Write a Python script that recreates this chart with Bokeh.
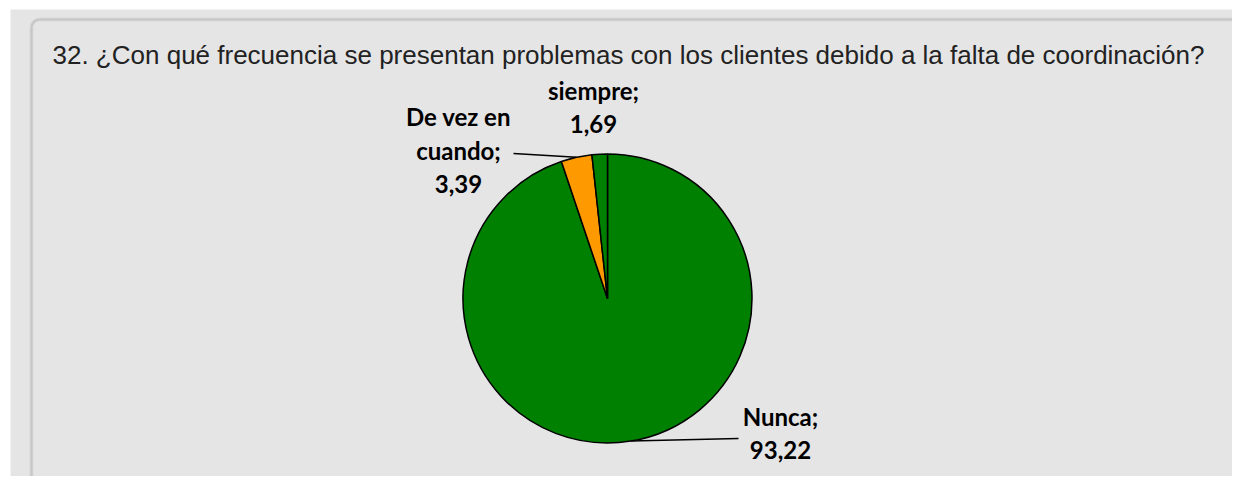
import numpy as np
from bokeh.plotting import figure
from bokeh.models import Range1d, ColumnDataSource
from bokeh.core.properties import value
from bokeh.embed import file_html
from bokeh.resources import INLINE

# ---- data ----
title_text = "32. ¿Con qué frecuencia se presentan problemas con los clientes debido a la falta de coordinación?"
categories = ["Nunca", "De vez en cuando", "siempre"]
values = [93.22, 3.39, 1.69]
value_labels = ["93,22", "3,39", "1,69"]
colors = ["#008000", "#ff9900", "#008000"]

# ---- layout (picture pixels -> data coords) ----
W, H = 1232, 476
TEXT_SHIFT = -9  # correction for text baseline placement


def X(px):
    return px


def Y(py):
    return H - py


p = figure(width=W, height=H, x_range=Range1d(0, W), y_range=Range1d(0, H),
           output_backend="svg", toolbar_location=None, min_border=0)
p.axis.visible = False
p.grid.visible = False
p.outline_line_color = None
p.background_fill_color = "white"
p.border_fill_color = "white"

# outer gray panel
p.quad(left=X(10), right=X(1300), bottom=Y(560), top=Y(9),
       fill_color="#e5e5e5", line_color=None)
# inner panel border (rounded corner)
for lw, lc in [(4, "#d9d9d9"), (2, "#c6c6c6")]:
    p.line(x=[X(39), X(1300)], y=[Y(19), Y(19)], line_color=lc, line_width=lw)
    p.line(x=[X(31), X(31)], y=[Y(27), Y(560)], line_color=lc, line_width=lw)
    p.arc(x=X(39), y=Y(27), radius=8, start_angle=np.pi / 2, end_angle=np.pi,
          line_color=lc, line_width=lw)

# title
p.text(x=[X(52)], y=[Y(63 + TEXT_SHIFT)], text=[title_text],
       text_font=value("Liberation Sans"), text_font_size="26px",
       text_color="#222222", text_baseline="alphabetic", text_align="left")

# pie
cx, cy, r = X(607), Y(298), 144.5
vals = np.array(values, dtype=float)
frac = vals / vals.sum()
cum = np.concatenate([[0.0], np.cumsum(frac)])
start = np.pi / 2 - 2 * np.pi * cum[:-1]
end = np.pi / 2 - 2 * np.pi * cum[1:]
mid = (start + end) / 2
src = ColumnDataSource(dict(start=start, end=end, color=colors, cat=categories))
p.wedge(x=cx, y=cy, radius=r, start_angle="start", end_angle="end",
        direction="clock", fill_color="color", line_color="black",
        line_width=1.5, source=src)

# label layout: (center x, first baseline y) picture px, leader end (or None)
label_pos = {
    "Nunca": (780, 425, (738, 438)),
    "De vez en cuando": (458, 125, (513, 153)),
    "siempre": (593, 99, None),
}
line_split = {
    "Nunca": ["Nunca;"],
    "De vez en cuando": ["De vez en", "cuando;"],
    "siempre": ["siempre;"],
}
spacing = 33.6
for i, cat in enumerate(categories):
    lx, ly, lead = label_pos[cat]
    lines = line_split[cat] + [value_labels[i]]
    ys = [Y(ly + TEXT_SHIFT + k * spacing) for k in range(len(lines))]
    p.text(x=[X(lx)] * len(lines), y=ys, text=lines, text_font=value("Lato"),
           text_font_style="bold", text_font_size="24px", text_color="#000000",
           text_align="center", text_baseline="alphabetic")
    if lead is not None:
        sx = cx + r * np.cos(mid[i])
        sy = cy + r * np.sin(mid[i])
        p.line(x=[sx, X(lead[0])], y=[sy, Y(lead[1])], line_color="black",
               line_width=1.5)

open("out.html", "w").write(file_html(p, INLINE))
